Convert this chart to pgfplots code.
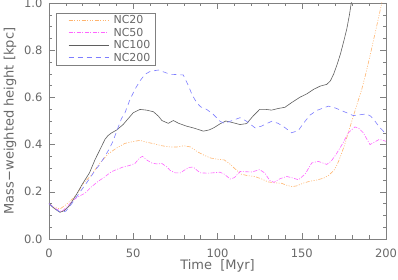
\documentclass[border=0pt]{standalone}
\usepackage{fontspec}
\setmainfont{DejaVu Sans}
\usepackage{pgfplots}
\pgfplotsset{compat=1.18}
\definecolor{cNC20}{RGB}{255,180,110}
\definecolor{cNC50}{RGB}{255,100,255}
\definecolor{cNC100}{RGB}{95,95,95}
\definecolor{cNC200}{RGB}{125,125,255}
\definecolor{axgray}{RGB}{128,128,128}
\definecolor{txgray}{RGB}{105,105,105}
\begin{document}
\begin{tikzpicture}
\useasboundingbox (-49pt,-41pt) rectangle (349pt,239pt);
\begin{axis}[
  at={(0pt,0pt)}, anchor=south west,
  scale only axis, width=337pt, height=236pt,
  xmin=0, xmax=200, ymin=0, ymax=1,
  xtick={0,50,100,150,200}, minor x tick num=4,
  ytick={0,0.2,0.4,0.6,0.8,1.0}, minor y tick num=3,
  tick align=inside,
  major tick length=6pt, minor tick length=3.5pt,
  axis line style={axgray, line width=0.5pt},
  every tick/.style={axgray, line width=0.5pt},
  /pgf/number format/assume math mode=true,
  tick label style={text=txgray, font=\fontsize{11.5}{13}\selectfont},
  xticklabel style={yshift=-6pt},
  yticklabel style={xshift=-3pt, /pgf/number format/.cd, fixed, fixed zerofill, precision=1},
  scaled y ticks=false,
  xlabel={Time\ \ [Myr]},
  ylabel={Mass−weighted height [kpc]},
  label style={text=txgray, font=\fontsize{13}{15}\selectfont},
  xlabel style={at={(axis description cs:0.5,-0.1144)}, anchor=center},
  ylabel style={at={(axis description cs:-0.1157,0.5)}, anchor=center, rotate=0},
  legend style={at={(0.021,0.959)}, anchor=north west, draw=axgray, line width=0.5pt,
    font=\fontsize{11}{11}\selectfont, text=txgray,
    nodes={inner sep=0.6pt}, row sep=1.6pt, inner xsep=4pt, inner ysep=2pt},
  legend cell align=left,
  legend image code/.code={\path (0pt,0pt); \draw[#1, line width=0.8pt] (8pt,0pt) -- (48pt,0pt); \path (52pt,0pt);},
  every axis plot/.append style={line width=0.6pt},
]
\addplot[color=cNC20, dash pattern=on 4pt off 1.5pt on 1pt off 1.5pt on 1pt off 1.5pt on 1pt off 1.5pt] coordinates {
(0,0.15)(3,0.135)(6.5,0.127)(10,0.145)(14,0.17)(17,0.195)(20,0.232)(25,0.27)(30,0.32)(35,0.36)(40,0.385)(45,0.405)(50,0.413)(54,0.418)(58,0.41)(62,0.404)(67,0.395)(72,0.39)(76,0.39)(80,0.395)(84,0.39)(88,0.37)(92,0.355)(96,0.343)(100,0.338)(104,0.335)(107,0.32)(110,0.30)(114,0.275)(118,0.268)(122,0.265)(126,0.255)(130,0.242)(134,0.238)(138,0.236)(141,0.228)(144,0.222)(147,0.225)(151,0.237)(155,0.245)(159,0.25)(163,0.258)(166,0.27)(169,0.29)(171,0.315)(173,0.35)(175.5,0.40)(178,0.46)(180.6,0.52)(183,0.575)(185.6,0.634)(188,0.70)(190.5,0.776)(192.5,0.84)(194.5,0.903)(197.5,1.0)(200,1.08)
};
\addlegendentry{NC20}
\addplot[color=cNC50, dash pattern=on 4pt off 1.5pt on 1pt off 1.5pt] coordinates {
(0,0.15)(3.5,0.13)(7.5,0.116)(10.5,0.135)(13.5,0.159)(17,0.178)(21.4,0.194)(25,0.22)(29.3,0.245)(32.5,0.26)(37,0.285)(40,0.294)(44,0.305)(48,0.312)(51,0.32)(54,0.345)(55.5,0.35)(58,0.335)(61,0.322)(64,0.318)(67,0.32)(70,0.305)(72,0.29)(75,0.28)(78,0.28)(80,0.29)(83,0.303)(85.6,0.305)(88,0.29)(90,0.28)(95,0.279)(101.5,0.283)(104,0.275)(107.5,0.254)(110,0.26)(113.4,0.286)(117,0.285)(120.5,0.284)(125,0.294)(128,0.28)(131,0.248)(133.5,0.24)(137,0.255)(141,0.265)(144,0.26)(148,0.251)(152,0.275)(155.9,0.322)(159.8,0.329)(164.8,0.316)(167.5,0.33)(170.5,0.36)(174.5,0.407)(177.6,0.45)(181.6,0.475)(184,0.468)(186.5,0.45)(190.5,0.40)(193,0.41)(196,0.422)(200,0.414)
};
\addlegendentry{NC50}
\addplot[color=cNC100, solid] coordinates {
(0,0.15)(3,0.13)(6.5,0.113)(9,0.12)(12,0.14)(16.4,0.19)(20,0.235)(24,0.28)(27.3,0.336)(30,0.375)(33.2,0.422)(35,0.438)(37,0.449)(40.2,0.462)(44,0.485)(47,0.51)(50,0.535)(54,0.549)(58,0.546)(62,0.539)(65,0.52)(67,0.502)(70.8,0.49)(73.8,0.502)(77,0.49)(81.7,0.478)(86,0.47)(91.6,0.457)(95,0.462)(98,0.472)(101.5,0.488)(105,0.5)(109,0.493)(113.4,0.485)(117.3,0.489)(121,0.52)(125,0.549)(129,0.549)(132,0.546)(136,0.553)(140,0.558)(144,0.578)(149,0.601)(153,0.615)(157,0.634)(161,0.648)(164.8,0.655)(167,0.67)(169,0.70)(171,0.74)(173,0.785)(175,0.84)(176.7,0.889)(178.3,0.95)(179.6,1.01)(181,1.07)
};
\addlegendentry{NC100}
\addplot[color=cNC200, dash pattern=on 5pt off 4pt] coordinates {
(0,0.15)(3,0.13)(7,0.113)(10,0.118)(13,0.145)(17,0.185)(20,0.215)(24,0.255)(27.3,0.29)(30,0.315)(33.2,0.35)(36,0.385)(38,0.415)(40.2,0.457)(43,0.51)(45.1,0.535)(48,0.59)(51,0.634)(54,0.67)(57,0.698)(60,0.71)(64.9,0.716)(68,0.708)(71.8,0.698)(75,0.697)(79.7,0.695)(82.7,0.65)(85,0.61)(87.7,0.577)(90,0.56)(93.6,0.549)(97.5,0.528)(101.5,0.499)(104,0.49)(108,0.5)(113.4,0.514)(117,0.5)(122.3,0.471)(126,0.478)(132.2,0.499)(136,0.49)(140,0.472)(144,0.45)(148,0.46)(151,0.49)(154.9,0.525)(159,0.545)(165.8,0.563)(170,0.555)(175,0.54)(180.6,0.523)(184,0.526)(188.5,0.53)(191,0.52)(193.5,0.499)(196,0.475)(198.4,0.457)(200,0.445)
};
\addlegendentry{NC200}
\end{axis}
\end{tikzpicture}
\end{document}
